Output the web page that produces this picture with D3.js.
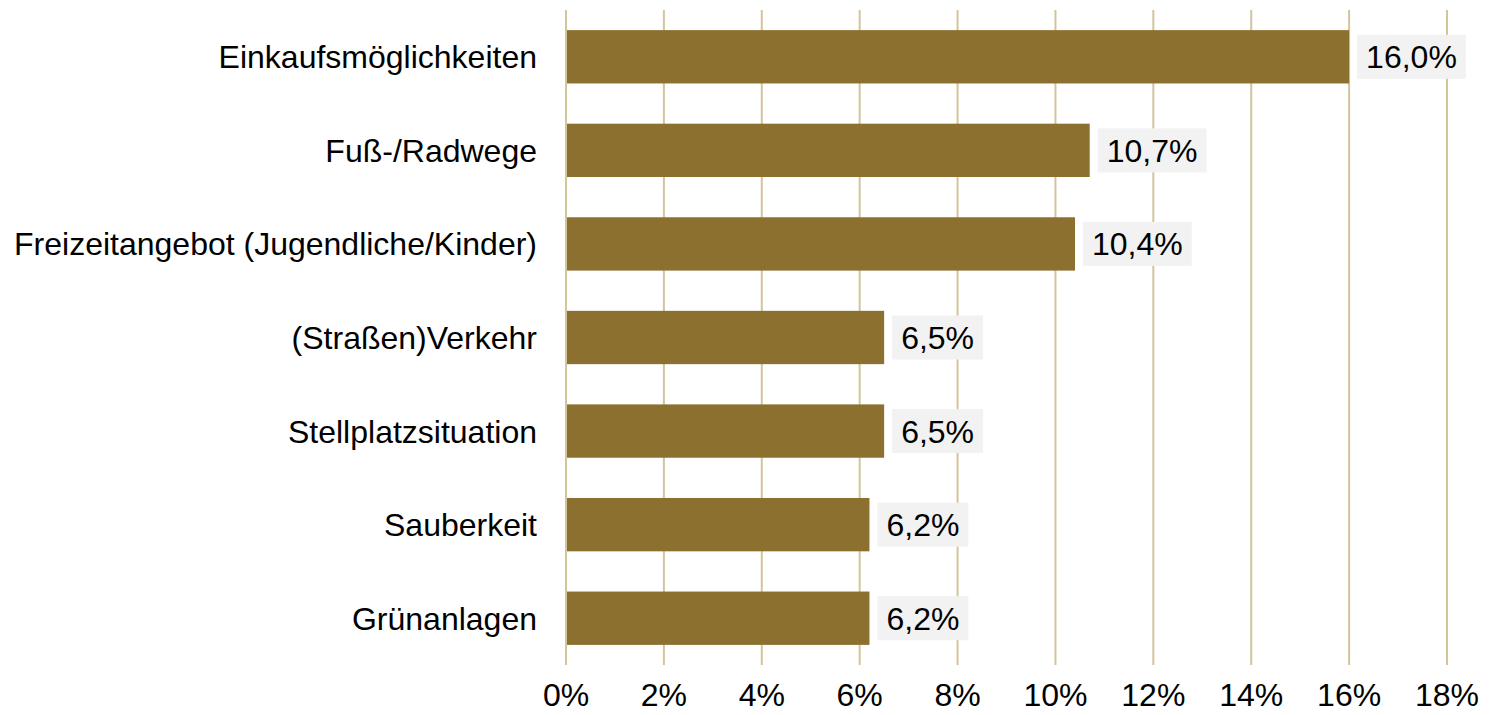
<!DOCTYPE html>
<html>
<head>
<meta charset="utf-8">
<script src="https://cdn.jsdelivr.net/npm/d3@7"></script>
<style>
  body { margin: 0; background: #fff; }
  text { font-family: "Liberation Sans", Arial, sans-serif; fill: #000; }
</style>
</head>
<body>
<div id="chart"></div>
<script>
var categories = ["Einkaufsmöglichkeiten", "Fuß-/Radwege", "Freizeitangebot (Jugendliche/Kinder)",
  "(Straßen)Verkehr", "Stellplatzsituation", "Sauberkeit", "Grünanlagen"];
var values = [16.0, 10.7, 10.4, 6.5, 6.5, 6.2, 6.2];
var ticks = [0, 2, 4, 6, 8, 10, 12, 14, 16, 18];

var chart = {};

chart.init = function() {
    var margin = {top: 10, right: 42, bottom: 50, left: 566};
    var height = 715 - margin.top - margin.bottom;

    var svg = d3.select("#chart")
        .append("svg")
        .attr("width", 1489)
        .attr("height", 715)
        .append("g")
        .attr("transform", "translate(" + margin.left + "," + margin.top + ")");

    var x = d3.scaleLinear().domain([0, 18]).range([0, 881]);
    var y = d3.scaleBand().domain(categories).range([0, 655]).paddingInner(0.43).paddingOuter(0.215);

    // gridlines
    svg.append("g")
      .selectAll("line")
      .data(ticks)
      .enter()
      .append("line")
        .attr("x1", function(d) { return x(d); })
        .attr("x2", function(d) { return x(d); })
        .attr("y1", 0)
        .attr("y2", height)
        .attr("stroke", "#d3c49b")
        .attr("stroke-width", 2);

    // x tick labels
    svg.append("g")
      .selectAll("text")
      .data(ticks)
      .enter()
      .append("text")
        .attr("x", function(d) { return x(d); })
        .attr("y", height + 41)
        .style("text-anchor", "middle")
        .style("font-size", "32px")
        .text(function(d) { return d + "%"; });

    // bars
    svg.append("g")
      .selectAll("rect")
      .data(values)
      .enter()
      .append("rect")
        .attr("x", x(0) + 1)
        .attr("y", function(d, i) { return y(categories[i]); })
        .attr("width", function(d) { return x(d) - x(0) - 1; })
        .attr("height", y.bandwidth())
        .style("fill", "#8b7030");

    // category labels
    svg.append("g")
      .selectAll("text")
      .data(categories)
      .enter()
      .append("text")
        .attr("x", -29)
        .attr("y", function(d) { return y(d) + y.bandwidth() / 2; })
        .attr("dy", "0.36em")
        .style("text-anchor", "end")
        .style("font-size", "32px")
        .text(function(d) { return d; });

    // value labels with grey boxes
    var fmt = function(v) { return v.toFixed(1).replace(".", ",") + "%"; };
    var lab = svg.append("g")
      .selectAll("g")
      .data(values)
      .enter()
      .append("g")
        .attr("transform", function(d, i) {
          return "translate(" + (x(d) + 8) + "," + (y(categories[i]) + y.bandwidth() / 2) + ")";
        });

    lab.append("rect")
      .attr("y", -22)
      .attr("height", 44)
      .style("fill", "#f2f2f2");

    lab.append("text")
      .attr("x", 9)
      .attr("dy", "0.36em")
      .style("font-size", "32px")
      .text(function(d) { return fmt(d); });

    lab.each(function() {
      var g = d3.select(this);
      var w = g.select("text").node().getComputedTextLength();
      g.select("rect").attr("width", w + 18);
    });
};

chart.init();
</script>
</body>
</html>
